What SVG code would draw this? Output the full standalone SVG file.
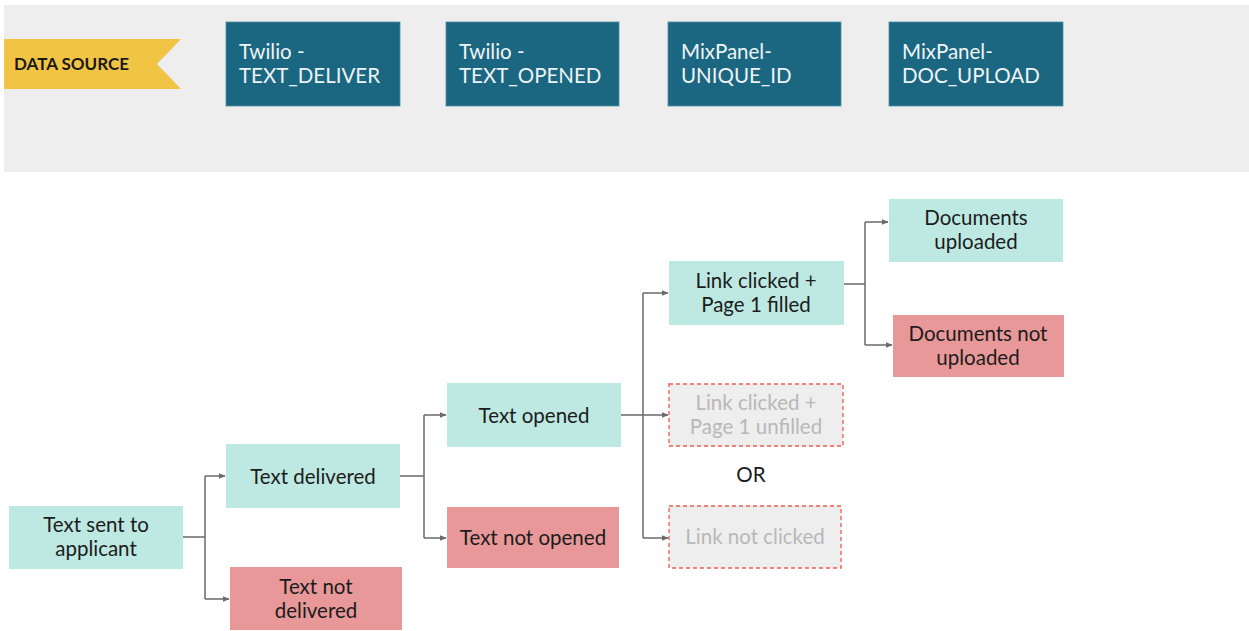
<svg xmlns="http://www.w3.org/2000/svg" width="1249" height="631" viewBox="0 0 1249 631">
<style>
.src rect{fill:#1b6680;stroke:#4f8ea2;stroke-width:0.8}
.src text{font-family:Lato,"Open Sans",sans-serif;font-size:20.5px;fill:#eef4f6}
.ok{fill:#bde9e2}
.bad{fill:#e89898}
.dash{fill:#eeeeee;stroke:#f05a4f;stroke-width:1.3;stroke-dasharray:4 3}
.t{font-family:Lato,"Open Sans",sans-serif;font-size:20.5px;fill:#1c1c1c;text-anchor:middle}
.g{fill:#b8b8b8}
.con path{fill:none;stroke:#6a6a6a;stroke-width:1.5}
</style>
<defs>
<marker id="ah" viewBox="0 0 10 10" refX="9" refY="5" markerWidth="7" markerHeight="7" orient="auto" markerUnits="userSpaceOnUse">
<path d="M0,1 L10,5 L0,9 z" fill="#6a6a6a"/>
</marker>
</defs>
<rect width="1249" height="631" fill="#ffffff"/>
<rect x="4" y="5" width="1245" height="167" fill="#eeeeee"/>
<g id="data-source">
<polygon points="4,39 181,39 157,64 181,89 4,89" fill="#f2c444"/>
<text x="14" y="70" font-family="Lato,'Open Sans',sans-serif" font-size="17" font-weight="bold" fill="#1a1a1a">DATA SOURCE</text>
</g>
<g id="src-twilio-deliver" class="src"><rect x="226" y="22" width="174" height="84"/><text x="239" y="59">Twilio -</text><text x="239" y="83">TEXT_DELIVER</text></g>
<g id="src-twilio-opened" class="src"><rect x="446" y="22" width="173" height="84"/><text x="459" y="59">Twilio -</text><text x="459" y="83">TEXT_OPENED</text></g>
<g id="src-mixpanel-unique" class="src"><rect x="668" y="22" width="173" height="84"/><text x="681" y="59">MixPanel-</text><text x="681" y="83">UNIQUE_ID</text></g>
<g id="src-mixpanel-doc" class="src"><rect x="889" y="22" width="174" height="84"/><text x="902" y="59">MixPanel-</text><text x="902" y="83">DOC_UPLOAD</text></g>

<g id="connectors" class="con">
<path d="M183,537 H205 M205,476 V599"/>
<path d="M205,476 H225" marker-end="url(#ah)"/>
<path d="M205,599 H229" marker-end="url(#ah)"/>
<path d="M400,476 H424 M424,415 V538"/>
<path d="M424,415 H446" marker-end="url(#ah)"/>
<path d="M424,538 H446" marker-end="url(#ah)"/>
<path d="M621,415 H643 M643,293 V538"/>
<path d="M643,293 H668" marker-end="url(#ah)"/>
<path d="M643,415 H668" marker-end="url(#ah)"/>
<path d="M643,538 H668" marker-end="url(#ah)"/>
<path d="M844,284 H865 M865,222 V345"/>
<path d="M865,222 H888" marker-end="url(#ah)"/>
<path d="M865,345 H892" marker-end="url(#ah)"/>
</g>

<g id="n-sent"><rect class="ok" x="9" y="506" width="174" height="63"/><text class="t" x="96" y="532">Text sent to</text><text class="t" x="96" y="556">applicant</text></g>
<g id="n-delivered"><rect class="ok" x="226" y="444" width="174" height="64"/><text class="t" x="313" y="484">Text delivered</text></g>
<g id="n-not-delivered"><rect class="bad" x="230" y="567" width="172" height="63"/><text class="t" x="316" y="594">Text not</text><text class="t" x="316" y="618">delivered</text></g>
<g id="n-opened"><rect class="ok" x="447" y="383" width="174" height="64"/><text class="t" x="534" y="423">Text opened</text></g>
<g id="n-not-opened"><rect class="bad" x="447" y="507" width="172" height="61"/><text class="t" x="533" y="545">Text not opened</text></g>
<g id="n-filled"><rect class="ok" x="669" y="261" width="175" height="64"/><text class="t" x="756" y="288">Link clicked +</text><text class="t" x="756" y="312">Page 1 filled</text></g>
<g id="n-unfilled"><rect class="dash" x="669" y="384" width="174" height="62"/><text class="t g" x="756" y="410">Link clicked +</text><text class="t g" x="756" y="434">Page 1 unfilled</text></g>
<g id="n-or"><text class="t" x="751" y="482" font-size="17">OR</text></g>
<g id="n-not-clicked"><rect class="dash" x="669" y="506" width="172" height="62"/><text class="t g" x="755" y="544">Link not clicked</text></g>
<g id="n-uploaded"><rect class="ok" x="889" y="199" width="174" height="63"/><text class="t" x="976" y="225">Documents</text><text class="t" x="976" y="249">uploaded</text></g>
<g id="n-not-uploaded"><rect class="bad" x="893" y="315" width="171" height="62"/><text class="t" x="978" y="341">Documents not</text><text class="t" x="978" y="365">uploaded</text></g>
</svg>
